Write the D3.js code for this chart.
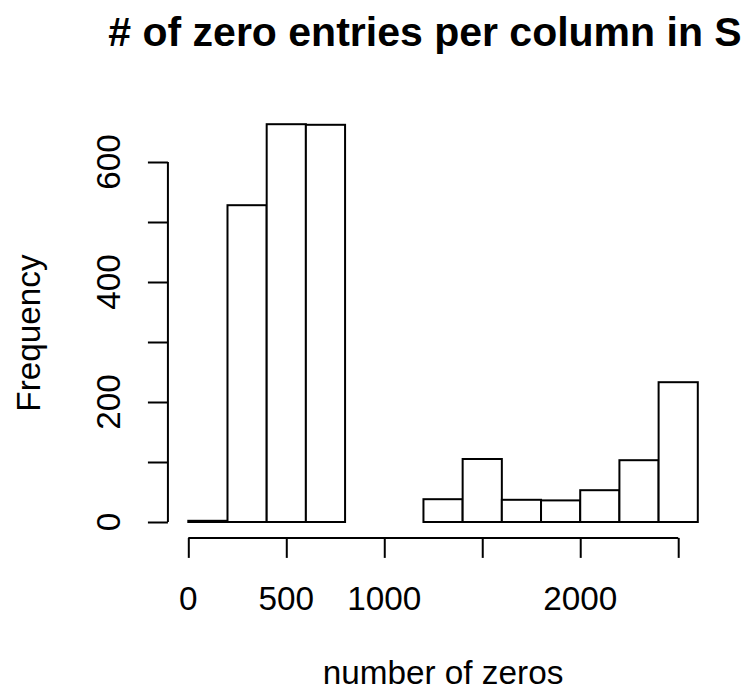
<!DOCTYPE html>
<html>
<head>
<meta charset="utf-8">
<script src="https://cdn.jsdelivr.net/npm/d3@7"></script>
<style>
  body { margin: 0; background: #fff; }
  text { font-family: "Liberation Sans", Arial, sans-serif; fill: #000; }
</style>
</head>
<body>
<svg id="chart" width="747" height="693"></svg>
<script>
// histogram bins (edges) and counts
var binEdges = [0, 200, 400, 600, 800, 1000, 1200, 1400, 1600, 1800, 2000, 2200, 2400, 2600];
var counts = [2, 528, 663, 662, 0, 0, 38, 105, 37, 36, 53, 103, 233];
var xTicks = [0, 500, 1000, 1500, 2000, 2500];
var xTickLabels = ["0", "500", "1000", "", "2000", ""];  // R drops overlapping ones
var yTicks = [0, 100, 200, 300, 400, 500, 600];
var yTickLabels = ["0", "", "200", "", "400", "", "600"];

var svg = d3.select("#chart");
var fs = 33.3;   // base font size
var lineH = 40;  // one margin line

var xScale = d3.scaleLinear().domain([0, 2600]).range([188.3, 697.8]);
var yScale = d3.scaleLinear().domain([0, 600]).range([522, 162]);

var plotLeft = xScale(-104), plotBottom = yScale(-26.5);

// bars
var bins = counts.map(function(c, i) {
    return {x0: binEdges[i], x1: binEdges[i + 1], n: c};
});

svg.append("g")
    .selectAll("rect")
    .data(bins)
    .enter()
    .append("rect")
    .attr("x", function(d) { return xScale(d.x0); })
    .attr("y", function(d) { return yScale(d.n); })
    .attr("width", function(d) { return xScale(d.x1) - xScale(d.x0); })
    .attr("height", function(d) { return yScale(0) - yScale(d.n); })
    .attr("fill", "#fff")
    .attr("stroke", "#000")
    .attr("stroke-width", 2);

// x axis
var gx = svg.append("g")
    .attr("transform", "translate(0," + plotBottom + ")")
    .call(d3.axisBottom(xScale)
        .tickValues(xTicks)
        .tickSize(20)
        .tickFormat(""));
gx.select(".domain").remove();
gx.append("line")
    .attr("x1", xScale(xTicks[0])).attr("x2", xScale(xTicks[xTicks.length - 1]))
    .attr("stroke", "#000").attr("stroke-width", 2);
gx.selectAll(".tick line").attr("stroke", "#000").attr("stroke-width", 2);

svg.append("g")
    .selectAll("text")
    .data(xTicks)
    .enter()
    .append("text")
    .attr("x", function(d) { return xScale(d); })
    .attr("y", plotBottom + 1.8 * lineH)
    .attr("text-anchor", "middle")
    .style("font-size", fs + "px")
    .text(function(d, i) { return xTickLabels[i]; });

// y axis
var gy = svg.append("g")
    .attr("transform", "translate(" + plotLeft + ",0)")
    .call(d3.axisLeft(yScale)
        .tickValues(yTicks)
        .tickSize(20)
        .tickFormat(""));
gy.select(".domain").remove();
gy.append("line")
    .attr("y1", yScale(0)).attr("y2", yScale(600))
    .attr("stroke", "#000").attr("stroke-width", 2);
gy.selectAll(".tick line").attr("stroke", "#000").attr("stroke-width", 2);

svg.append("g")
    .selectAll("text")
    .data(yTicks)
    .enter()
    .append("text")
    .attr("transform", function(d) {
        return "translate(" + (plotLeft - 1.2 * lineH) + "," + yScale(d) + ") rotate(-90)";
    })
    .attr("text-anchor", "middle")
    .style("font-size", fs + "px")
    .text(function(d, i) { return yTickLabels[i]; });

// titles
svg.append("text")
    .attr("x", 425).attr("y", 46)
    .attr("text-anchor", "middle")
    .style("font-size", "41px")
    .style("font-weight", "bold")
    .text("# of zero entries per column in S");

svg.append("text")
    .attr("x", 443).attr("y", 684)
    .attr("text-anchor", "middle")
    .style("font-size", fs + "px")
    .text("number of zeros");

svg.append("text")
    .attr("transform", "translate(" + (plotLeft - 3.2 * lineH) + ",333) rotate(-90)")
    .attr("text-anchor", "middle")
    .style("font-size", fs + "px")
    .text("Frequency");
</script>
</body>
</html>
